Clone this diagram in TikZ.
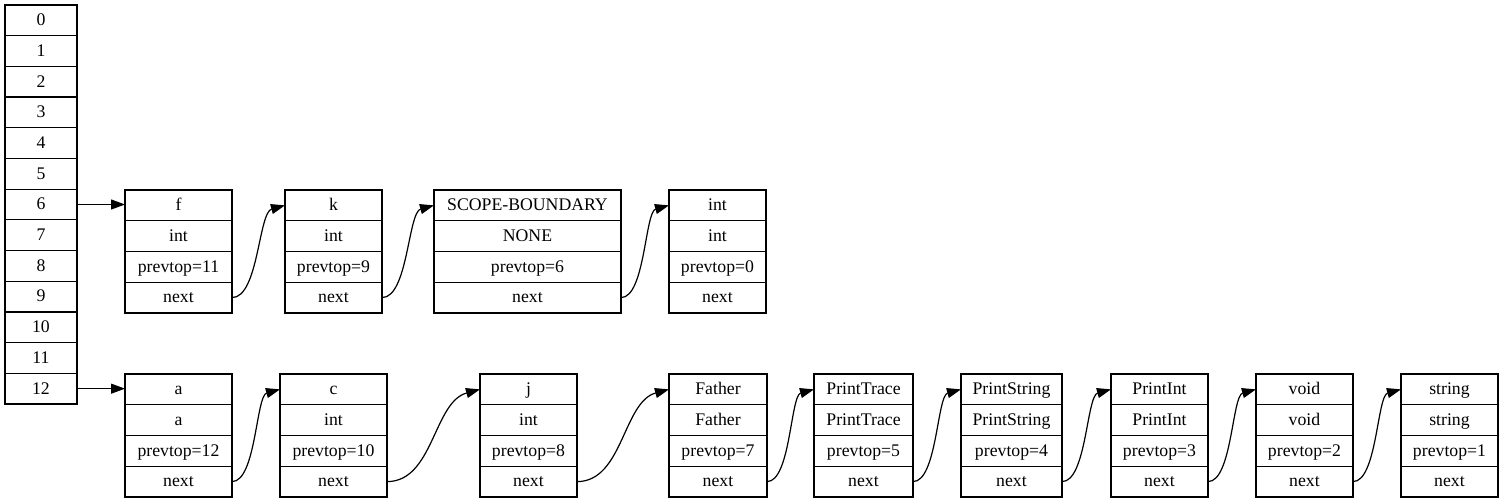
\documentclass[tikz,border=0pt]{standalone}
\usepackage{fontspec}
\setmainfont{Liberation Serif}
\usetikzlibrary{arrows.meta,calc}

% one record = four stacked cells named <name>-1 .. <name>-4
\newcommand\recfont{\fontsize{13.3}{15}\selectfont}
\newcommand\record[8]{%
  \pgfmathsetmacro\recw{(#3-#2)*0.75}%
  \node[cell, minimum width=\recw pt, anchor=north west] (#1-1) at (#2,#4) {#5};
  \node[cell, minimum width=\recw pt, anchor=north] (#1-2) at (#1-1.south) {#6};
  \node[cell, minimum width=\recw pt, anchor=north] (#1-3) at (#1-2.south) {#7};
  \node[cell, minimum width=\recw pt, anchor=north] (#1-4) at (#1-3.south) {#8};
}
% spline from the "next" cell of one record to the head of the following one
\newcommand\nextlink[2]{%
  \draw[link] let \p1=(#1-4.east), \p2=(#2-1.west), \p3=($(\p1)!0.5!(\p2)$) in
    (\p1) .. controls (\x3,\y1) and (\x3,{\y2-0.27*(\x2-\x3)}) .. (\p2);
}

\tikzset{
  cell/.style={draw, line width=0.9pt, inner sep=0pt, outer sep=0pt,
               minimum height=23.06pt, font=\recfont,
               text height=10pt, text depth=2pt},
  slot/.style={cell, minimum width=54pt, minimum height=23.02pt},
  link/.style={line width=0.9pt, -{Triangle[length=10.5pt,width=7.5pt]}},
}

\begin{document}
\begin{tikzpicture}[x=0.75pt,y=-0.75pt]
\useasboundingbox (0,0) rectangle (1504,503);

% hash table of bucket slots
\node[slot, anchor=north west] (t0) at (5,5) {0};
\foreach \i [remember=\i as \prev (initially 0)] in {1,...,12}{
  \node[slot, anchor=north] (t\i) at (t\prev.south) {\i};
}

% bucket 6 chain
\record{f}{125}{232}{190}{f}{int}{prevtop=11}{next}
\record{k}{285}{382}{190}{k}{int}{prevtop=9}{next}
\record{sb}{434}{621}{190}{SCOPE-BOUNDARY}{NONE}{prevtop=6}{next}
\record{ii}{669}{766}{190}{int}{int}{prevtop=0}{next}

% bucket 12 chain
\record{a}{125}{232}{374}{a}{a}{prevtop=12}{next}
\record{c}{280}{387}{374}{c}{int}{prevtop=10}{next}
\record{j}{480}{577}{374}{j}{int}{prevtop=8}{next}
\record{fa}{669}{767}{374}{Father}{Father}{prevtop=7}{next}
\record{pt}{814}{913}{374}{PrintTrace}{PrintTrace}{prevtop=5}{next}
\record{ps}{961}{1062}{374}{PrintString}{PrintString}{prevtop=4}{next}
\record{pi}{1111}{1208}{374}{PrintInt}{PrintInt}{prevtop=3}{next}
\record{vo}{1256}{1353}{374}{void}{void}{prevtop=2}{next}
\record{st}{1401}{1498}{374}{string}{string}{prevtop=1}{next}

% bucket heads
\draw[link] (t6.east) -- (t6.east -| f-1.west);
\draw[link] (t12.east) -- (t12.east -| a-1.west);

% next pointers
\nextlink{f}{k}
\nextlink{k}{sb}
\nextlink{sb}{ii}
\nextlink{a}{c}
\nextlink{c}{j}
\nextlink{j}{fa}
\nextlink{fa}{pt}
\nextlink{pt}{ps}
\nextlink{ps}{pi}
\nextlink{pi}{vo}
\nextlink{vo}{st}
\end{tikzpicture}
\end{document}
